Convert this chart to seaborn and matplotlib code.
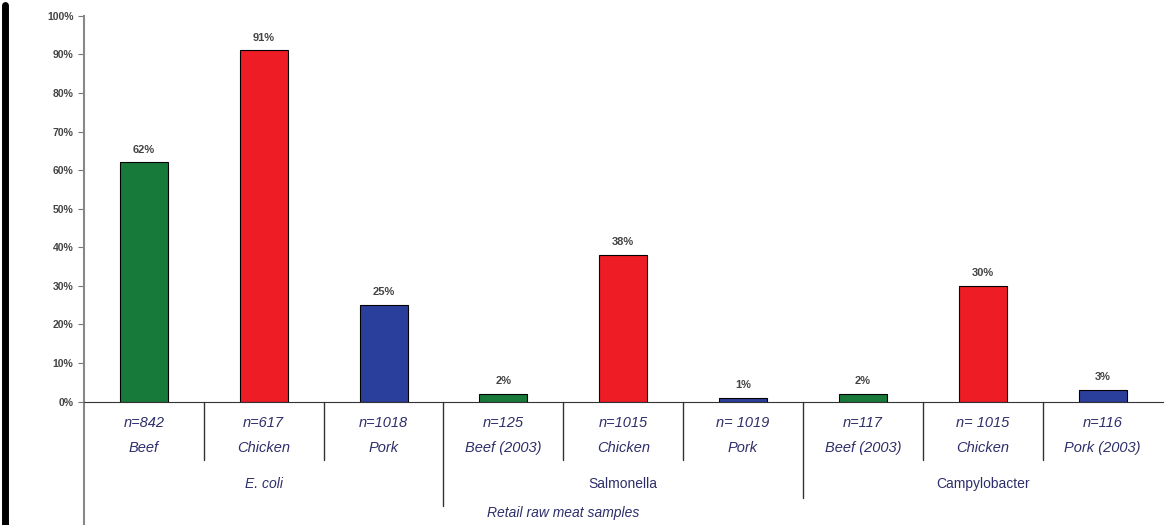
import numpy as np
import pandas as pd
import matplotlib.pyplot as plt
import seaborn as sns

sns.set_style('white')
plt.rcParams['font.family'] = ['Liberation Sans', 'DejaVu Sans']

# data
bacteria = ['E. coli', 'E. coli', 'E. coli',
            'Salmonella', 'Salmonella', 'Salmonella',
            'Campylobacter', 'Campylobacter', 'Campylobacter']
meat = ['Beef', 'Chicken', 'Pork',
        'Beef (2003)', 'Chicken', 'Pork',
        'Beef (2003)', 'Chicken', 'Pork (2003)']
n_samples = ['n=842', 'n=617', 'n=1018',
             'n=125', 'n=1015', 'n= 1019',
             'n=117', 'n= 1015', 'n=116']
percent = [62, 91, 25, 2, 38, 1, 2, 30, 3]
meat_type = ['Beef', 'Chicken', 'Pork', 'Beef', 'Chicken', 'Pork', 'Beef', 'Chicken', 'Pork']
groups = ['E. coli', 'Salmonella', 'Campylobacter']

colors = {'Beef': '#177a3a', 'Chicken': '#ee1c24', 'Pork': '#2a3f9c'}
txt_col = '#2e2e6a'

df = pd.DataFrame({'label': [f'{n}\n{m}' for n, m in zip(n_samples, meat)],
                   'pct': percent, 'type': meat_type, 'bact': bacteria})

fig = plt.figure(figsize=(11.66, 5.25), dpi=100)
ax = fig.add_axes([0.072, 0.235, 0.925, 0.735])

sns.barplot(data=df, x='label', y='pct', hue='type', palette=colors, dodge=False,
            width=0.4, edgecolor='black', linewidth=0.8, saturation=1,
            legend=False, ax=ax)

ax.set_ylim(0, 100)
ax.set_xlim(-0.5, len(df) - 0.5)
ax.set_yticks(range(0, 101, 10))
ax.set_yticklabels([f'{v}%' for v in range(0, 101, 10)], fontsize=7.5,
                   fontweight='bold', color='#444444')
ax.tick_params(axis='y', length=4, color='#777777', direction='out', left=True)
ax.tick_params(axis='x', length=0, pad=10)
ax.set_xlabel('')
ax.set_ylabel('')
for lbl in ax.get_xticklabels():
    lbl.set_fontstyle('italic')
    lbl.set_color(txt_col)
    lbl.set_fontsize(10.5)
    lbl.set_linespacing(2.0)

sns.despine(ax=ax, top=True, right=True)
ax.spines['left'].set_color('#888888')
ax.spines['left'].set_linewidth(1.5)
ax.spines['bottom'].set_color('#333333')

# value labels
for i, v in enumerate(percent):
    ax.text(i, v + 2, f'{v}%', ha='center', va='bottom', fontsize=8,
            fontweight='bold', color='#444444')

# separators below the axis
trans = ax.get_xaxis_transform()
for i in range(1, len(df)):
    if bacteria[i] != bacteria[i - 1]:
        y_end = -0.27 if i == 3 else -0.25
    else:
        y_end = -0.15
    ax.plot([i - 0.5, i - 0.5], [0, y_end], transform=trans, color='#333333',
            lw=1.0, clip_on=False)
ax.plot([-0.5, -0.5], [0, -0.33], transform=trans, color='#888888', lw=1.5, clip_on=False)

# group labels
for g in groups:
    idx = [i for i, b in enumerate(bacteria) if b == g]
    style = 'italic' if g == 'E. coli' else 'normal'
    ax.text(np.mean(idx), -0.195, g, transform=trans, ha='center', va='top',
            fontsize=10, fontstyle=style, color=txt_col)

ax.text(np.mean(range(len(df))) - 0.5, -0.27, 'Retail raw meat samples', transform=trans,
        ha='center', va='top', fontsize=10, fontstyle='italic', color=txt_col)

# dark edge on the left of the photo
fig.add_artist(plt.Line2D([0.004, 0.004], [0, 0.99], color='black', lw=5))

fig.savefig('out.png', dpi=100, facecolor='white')
